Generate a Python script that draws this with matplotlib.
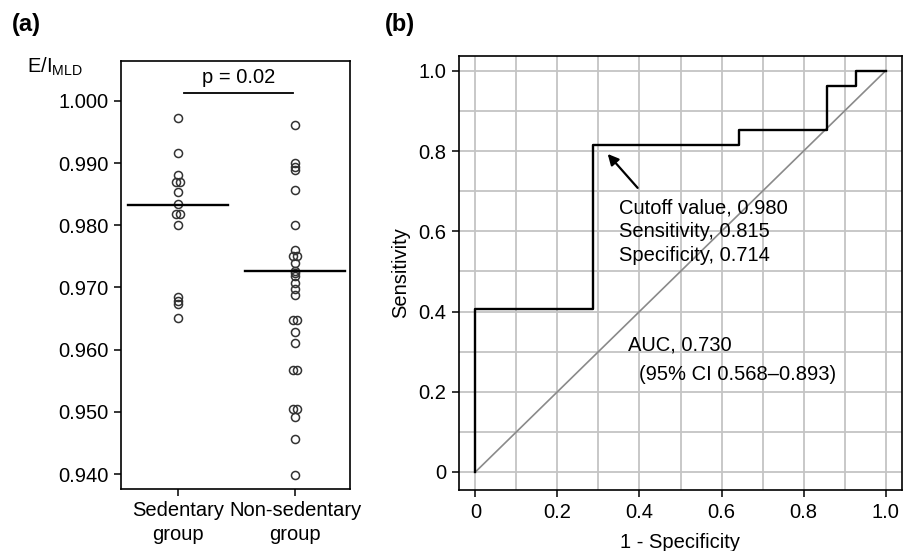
import matplotlib.pyplot as plt
import numpy as np

plt.rcParams['font.family'] = ['Liberation Sans', 'DejaVu Sans']

# panel (a): E/I_MLD per group
groups = ["Sedentary\ngroup", "Non-sedentary\ngroup"]
sedentary = [0.9972, 0.9916, 0.9880, 0.9870, 0.9870, 0.9853, 0.9834,
             0.9818, 0.9818, 0.9800, 0.9684, 0.9679, 0.9673, 0.9651]
non_sedentary = [0.9961, 0.9900, 0.9894, 0.9888, 0.9857, 0.9801, 0.9760,
                 0.9751, 0.9751, 0.9740, 0.9727, 0.9723, 0.9718, 0.9707,
                 0.9698, 0.9688, 0.9648, 0.9648, 0.9628, 0.9611, 0.9567,
                 0.9567, 0.9504, 0.9504, 0.9492, 0.9456, 0.9399]
medians = [0.9833, 0.9727]
a_yticks = [0.940, 0.950, 0.960, 0.970, 0.980, 0.990, 1.000]
p_text = "p = 0.02"

# panel (b): ROC curve
fpr = [0, 0, 0.286, 0.286, 0.643, 0.643, 0.857, 0.857, 0.929, 0.929, 1.0]
tpr = [0, 0.407, 0.407, 0.815, 0.815, 0.852, 0.852, 0.963, 0.963, 1.0, 1.0]
b_ticks = [0, 0.2, 0.4, 0.6, 0.8, 1.0]
b_ticklabels = ["0", "0.2", "0.4", "0.6", "0.8", "1.0"]
cutoff_text = "Cutoff value, 0.980\nSensitivity, 0.815\nSpecificity, 0.714"
auc_text = "AUC, 0.730"
ci_text = "(95% CI 0.568\u20130.893)"

FS = 14.5
W, H = 910, 551
fig = plt.figure(figsize=(W / 100, H / 100), dpi=100)


def box(l, t, r, b):
    return [l / W, 1 - b / H, (r - l) / W, (b - t) / H]


def tie_offsets(vals, step=0.026):
    # small side-by-side shift for tied values
    vals = np.round(np.asarray(vals), 4)
    off = np.zeros(len(vals))
    for v in np.unique(vals):
        idx = np.where(vals == v)[0]
        off[idx] = (np.arange(len(idx)) - (len(idx) - 1) / 2) * step
    return off


# ---- (a)
ax1 = fig.add_axes(box(121, 61, 350, 489))
for i, vals in enumerate([sedentary, non_sedentary]):
    x = i + 1 + tie_offsets(vals)
    ax1.plot(x, vals, 'o', mfc='none', mec='#333333', ms=5.8, mew=1.1)
    ax1.plot([i + 1 - 0.43, i + 1 + 0.43], [medians[i]] * 2, color='black', lw=1.7)
ax1.plot([1.05, 1.98], [1.0013, 1.0013], color='black', lw=1.3)
ax1.text(1.515, 1.0022, p_text, ha='center', va='bottom', fontsize=FS)
ax1.set_xlim(0.513, 2.47)
ax1.set_ylim(0.9376, 1.0064)
ax1.set_xticks([1, 2])
ax1.set_xticklabels(groups, fontsize=FS, linespacing=1.3)
ax1.set_yticks(a_yticks)
ax1.set_yticklabels(["%.3f" % v for v in a_yticks], fontsize=FS)
ax1.tick_params(direction='out', length=5, width=1.1, pad=4)
for s in ax1.spines.values():
    s.set_linewidth(1.2)
fig.text(27 / W, 1 - 67 / H, r"E/I$_\mathregular{MLD}$", fontsize=FS, va='center', ha='left')
fig.text(12 / W, 1 - 24 / H, "(a)", fontsize=17, fontweight='bold', va='center')

# ---- (b)
ax2 = fig.add_axes(box(459, 56, 902, 490))
grid = np.arange(0, 1.01, 0.1)
for g in grid:
    ax2.axvline(g, color='#c4c4c4', lw=1.3, zorder=0)
    ax2.axhline(g, color='#c4c4c4', lw=1.3, zorder=0)
ax2.plot([0, 1], [0, 1], color='#8a8a8a', lw=1.2, zorder=1)
ax2.plot(fpr, tpr, color='black', lw=1.7, zorder=2)
ax2.annotate("", xy=(0.318, 0.798), xytext=(0.40, 0.703),
             arrowprops=dict(arrowstyle='-|>', color='black', lw=1.6,
                             mutation_scale=16))
ax2.text(0.349, 0.599, cutoff_text, fontsize=FS, va='center', ha='left',
         linespacing=1.3)
ax2.text(0.373, 0.317, auc_text, fontsize=FS, va='center', ha='left')
ax2.text(0.398, 0.244, ci_text, fontsize=FS, va='center', ha='left')
ax2.set_xlim(-0.04, 1.04)
ax2.set_ylim(-0.045, 1.037)
ax2.set_xticks(b_ticks)
ax2.set_xticklabels(b_ticklabels, fontsize=FS)
ax2.set_yticks(b_ticks)
ax2.set_yticklabels(b_ticklabels, fontsize=FS)
ax2.tick_params(direction='out', length=5, width=1.1, pad=4)
ax2.set_xlabel("1 - Specificity", fontsize=FS, labelpad=8)
ax2.set_ylabel("Sensitivity", fontsize=FS, labelpad=6)
for s in ax2.spines.values():
    s.set_linewidth(1.2)
fig.text(385 / W, 1 - 24 / H, "(b)", fontsize=17, fontweight='bold', va='center')

fig.savefig("out.png", dpi=100)
